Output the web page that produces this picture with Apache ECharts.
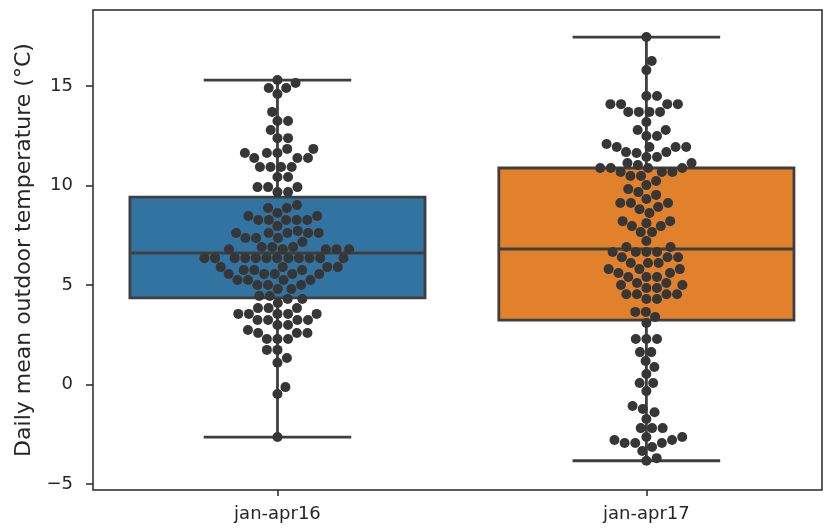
<!DOCTYPE html>
<html>
<head>
<meta charset="utf-8">
<script src="https://cdn.jsdelivr.net/npm/echarts@6/dist/echarts.min.js"></script>
<style>
  html, body { margin: 0; padding: 0; background: #fff; }
  #chart { width: 824px; height: 528px; }
</style>
</head>
<body>
<div id="chart"></div>
<script>
// Categories and y-axis ticks
const categories = ['jan-apr16', 'jan-apr17'];
const yTicks = [-5, 0, 5, 10, 15];

// Box stats: [whisker low, Q1, median, Q3, whisker high]
const boxStats16 = [-2.64, 4.35, 6.61, 9.42, 15.30];
const boxStats17 = [-3.83, 3.24, 6.81, 10.88, 17.46];

// Daily mean temperatures
const temps16 = [
  15.30, 15.15, 14.90, 14.90, 14.60, 13.70, 13.24, 13.24, 12.79, 12.38, 12.38,
  11.84, 11.84, 11.63, 11.63, 11.63, 11.38, 11.38, 11.38,
  10.93, 10.93, 10.93, 10.93, 10.43, 10.43, 9.92, 9.92, 9.92, 9.67, 9.67,
  9.02, 8.87, 8.87, 8.62, 8.47, 8.47, 8.27, 8.27, 8.27, 8.27, 8.27,
  7.96, 7.72, 7.61, 7.61, 7.61, 7.61, 7.61, 7.36, 7.36, 7.36, 7.16,
  6.91, 6.91, 6.91, 6.80, 6.80, 6.80, 6.80, 6.80,
  6.35, 6.35, 6.35, 6.35, 6.35, 6.35, 6.35, 6.35, 6.35, 6.35, 6.35, 6.35,
  5.90, 5.90, 5.90, 5.90, 5.75, 5.75, 5.75, 5.55, 5.55, 5.55, 5.55, 5.55,
  5.25, 5.25, 5.25, 5.25, 5.00, 5.00, 5.00, 4.80, 4.80, 4.45, 4.45, 4.30, 4.30,
  4.10, 3.84, 3.84, 3.84, 3.55, 3.55, 3.55, 3.55, 3.55, 3.24, 3.24, 3.24, 3.24,
  2.99, 2.99, 2.74, 2.59, 2.59, 2.59, 2.29, 2.29, 2.29, 1.74, 1.74, 1.33, 1.09,
  -0.13, -0.48, -2.64
];
const temps17 = [
  17.46, 16.26, 15.80, 14.50, 14.50, 14.09, 14.09, 14.09, 14.09,
  13.70, 13.70, 13.70, 13.70, 13.19, 12.79, 12.79, 12.49, 12.49, 12.09,
  11.94, 11.94, 11.94, 11.94, 11.68, 11.68, 11.63, 11.43, 11.43, 11.13, 11.13, 11.03,
  10.88, 10.88, 10.88, 10.88, 10.68, 10.68, 10.68, 10.48, 10.48, 10.23,
  10.02, 9.82, 9.67, 9.53, 9.32, 9.12, 9.12, 9.12, 8.92, 8.81, 8.62,
  8.21, 8.21, 8.11, 7.96, 7.96, 7.66, 7.66, 7.21, 6.91, 6.91,
  6.66, 6.66, 6.66, 6.66, 6.40, 6.40, 6.40, 6.11, 6.11, 6.11, 5.80, 5.80, 5.80,
  5.60, 5.60, 5.40, 5.40, 5.40, 5.10, 5.10, 5.00, 5.00, 4.85, 4.85,
  4.54, 4.54, 4.54, 4.54, 4.30, 4.30, 3.65, 3.65, 3.39, 3.09,
  2.29, 2.29, 2.29, 1.63, 1.63, 1.18, 0.88, 0.53, 0.08, 0.08, -0.33,
  -1.08, -1.23, -1.39, -1.73, -2.19, -2.19, -2.19, -2.64, -2.64, -2.79, -2.79,
  -2.94, -2.94, -2.94, -3.14, -3.34, -3.70, -3.83
];

const boxColors = ['#3274a1', '#e1812c'];
const lineColor = '#3f3f3f';
const dotColor = '#363636';
const textColor = '#262626';
const dotSize = 10;
const dotGap = 10.6;

const chart = echarts.init(document.getElementById('chart'));

function renderBox(params, api) {
  const idx = api.value(0);
  const low = api.coord([idx, api.value(1)]);
  const q1 = api.coord([idx, api.value(2)]);
  const med = api.coord([idx, api.value(3)]);
  const q3 = api.coord([idx, api.value(4)]);
  const high = api.coord([idx, api.value(5)]);
  const unit = api.size([1, 0])[0];
  const half = unit * 0.4;
  const cap = unit * 0.2;
  const x = med[0];
  const style = { stroke: lineColor, lineWidth: 2.8 };
  return {
    type: 'group',
    children: [
      { type: 'line', shape: { x1: x, y1: q3[1], x2: x, y2: high[1] }, style },
      { type: 'line', shape: { x1: x, y1: q1[1], x2: x, y2: low[1] }, style },
      { type: 'line', shape: { x1: x - cap, y1: high[1], x2: x + cap, y2: high[1] }, style },
      { type: 'line', shape: { x1: x - cap, y1: low[1], x2: x + cap, y2: low[1] }, style },
      {
        type: 'rect',
        shape: { x: x - half, y: q3[1], width: half * 2, height: q1[1] - q3[1] },
        style: { fill: boxColors[idx], stroke: lineColor, lineWidth: 2.8 }
      },
      { type: 'line', shape: { x1: x - half, y1: med[1], x2: x + half, y2: med[1] }, style }
    ]
  };
}

function renderDot(params, api) {
  const p = api.coord([api.value(0), api.value(1)]);
  return {
    type: 'circle',
    shape: { cx: p[0] + api.value(2), cy: p[1], r: dotSize / 2 },
    style: { fill: dotColor }
  };
}

const option = {
  animation: false,
  grid: {
    left: 93, right: 2, top: 10, bottom: 38,
    outerBoundsMode: 'none',
    containLabel: false,
    show: true, borderColor: textColor, borderWidth: 1.5
  },
  xAxis: {
    type: 'value',
    min: -0.5,
    max: 1.476,
    position: 'bottom',
    axisLine: { show: false, onZero: false },
    axisTick: { show: true, length: 6, customValues: [0, 1], lineStyle: { color: textColor, width: 1.5 } },
    axisLabel: {
      margin: 15,
      customValues: [0, 1],
      fontFamily: 'DejaVu Sans',
      fontSize: 18,
      color: textColor,
      formatter: v => categories[v]
    },
    splitLine: { show: false }
  },
  yAxis: {
    type: 'value',
    min: -5.30,
    max: 18.82,
    position: 'left',
    name: 'Daily mean outdoor temperature (°C)',
    nameLocation: 'middle',
    nameRotate: 90,
    nameGap: 57,
    nameTextStyle: { fontFamily: 'DejaVu Sans', fontSize: 22, color: textColor },
    axisLine: { show: false, onZero: false },
    axisTick: { show: true, length: 7, customValues: yTicks, lineStyle: { color: textColor, width: 1.5 } },
    axisLabel: {
      margin: 20,
      customValues: yTicks,
      fontFamily: 'DejaVu Sans',
      fontSize: 18,
      color: textColor,
      formatter: v => String(v).replace('-', '\u2212')
    },
    splitLine: { show: false }
  },
  series: [
    {
      type: 'custom',
      renderItem: renderBox,
      z: 2,
      data: [[0].concat(boxStats16), [1].concat(boxStats17)]
    },
    {
      type: 'custom',
      renderItem: renderDot,
      z: 3,
      data: []
    }
  ]
};

chart.setOption(option);

// Beeswarm layout in pixel space: each dot goes as close to the centre as it can without overlap
function swarm(idx, values) {
  const pts = values
    .map(v => ({ v, y: chart.convertToPixel({ gridIndex: 0 }, [idx, v])[1] }))
    .sort((a, b) => b.y - a.y);
  const placed = [];
  pts.forEach(pt => {
    const near = placed.filter(q => Math.abs(q.y - pt.y) < dotGap);
    const cands = [0];
    near.forEach(q => {
      const dx = Math.sqrt(dotGap * dotGap - (q.y - pt.y) * (q.y - pt.y));
      cands.push(q.x + dx, q.x - dx);
    });
    cands.sort((a, b) => Math.abs(a) - Math.abs(b));
    let x = cands[0];
    for (const c of cands) {
      const ok = near.every(q => Math.hypot(q.x - c, q.y - pt.y) >= dotGap - 0.01);
      if (ok) { x = c; break; }
    }
    pt.x = x;
    placed.push(pt);
  });
  return placed.map(p => [idx, p.v, p.x]);
}

chart.setOption({
  series: [{}, { data: swarm(0, temps16).concat(swarm(1, temps17)) }]
});
</script>
</body>
</html>
